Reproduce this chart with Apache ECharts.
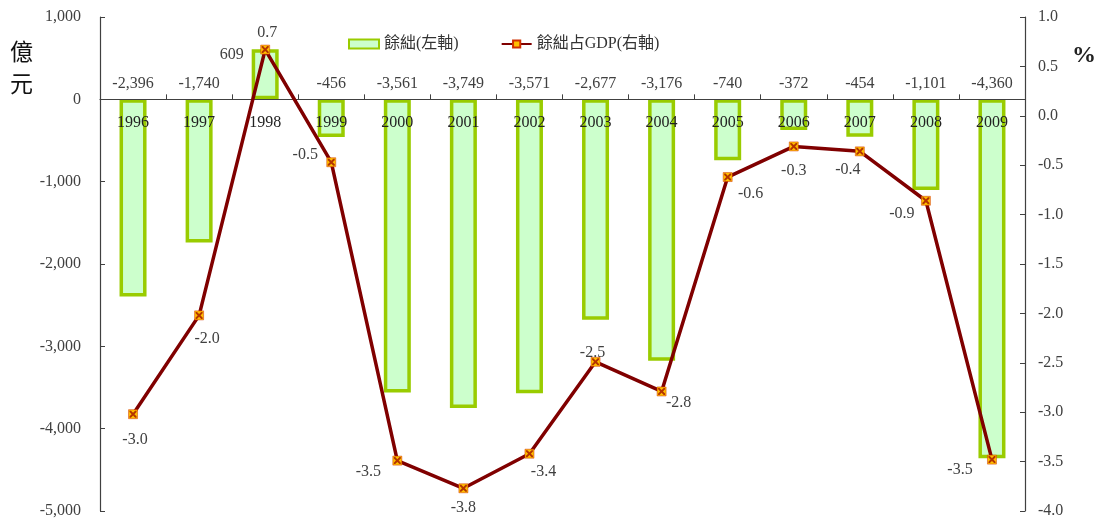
<!DOCTYPE html>
<html>
<head>
<meta charset="utf-8">
<script src="https://cdn.jsdelivr.net/npm/echarts@6/dist/echarts.min.js"></script>
<style>
  html, body { margin: 0; padding: 0; background: #ffffff; }
  #chart { width: 1098px; height: 519px; }
</style>
</head>
<body>
<div id="chart"></div>
<script>
// Years on the category axis
const years = ['1996', '1997', '1998', '1999', '2000', '2001', '2002', '2003', '2004', '2005', '2006', '2007', '2008', '2009'];
// Budget balance, 億元 (left axis)
const balance = [-2396, -1740, 609, -456, -3561, -3749, -3571, -2677, -3176, -740, -372, -454, -1101, -4360];
// Balance as share of GDP, % (right axis)
const balanceGdp = [-3.02, -2.02, 0.67, -0.47, -3.49, -3.77, -3.42, -2.49, -2.79, -0.62, -0.31, -0.36, -0.86, -3.48];
// Axis tick settings
const leftTicks = { min: -5000, max: 1000, interval: 1000 };
const rightTicks = { min: -4, max: 1, interval: 0.5 };

// Where each percentage label sits relative to its point (dx, dy in px)
const gdpLabelOffset = [
  [2, 26], [8, 23], [2, -17], [-26, -7], [-29, 11], [0, 20], [14, 18],
  [-3, -9], [17, 11], [23, 17], [0, 24], [-12, 18], [-24, 13], [-32, 10]
];

const serif = '"Liberation Serif", "Times New Roman", "Noto Sans CJK TC", serif';
const textColor = '#404040';
const axisColor = '#404040';

// Plot box, and how far the zero line of the left axis sits above its bottom edge
const gridBox = { left: 100, right: 73, top: 17, bottom: 8 };
const plotHeight = 519 - gridBox.top - gridBox.bottom;
const zeroLift = plotHeight * (0 - leftTicks.min) / (leftTicks.max - leftTicks.min);

const barData = balance.map(function (v) {
  if (v > 0) {
    return {
      value: v,
      label: { position: 'left', distance: 8, offset: [0, -19] }
    };
  }
  return v;
});

const lineData = balanceGdp.map(function (v, i) {
  return {
    value: v,
    label: { position: 'inside', offset: gdpLabelOffset[i] }
  };
});

const crossPath = 'path://M0,0 L2,0 L5,3 L8,0 L10,0 L10,2 L7,5 L10,8 L10,10 L8,10 L5,7 L2,10 L0,10 L0,8 L3,5 L0,2 Z';

const chart = echarts.init(document.getElementById('chart'), null, { renderer: 'canvas' });

chart.setOption({
  backgroundColor: '#ffffff',
  animation: false,
  textStyle: { fontFamily: serif },
  grid: {
    left: gridBox.left, right: gridBox.right, top: gridBox.top, bottom: gridBox.bottom,
    containLabel: false, outerBoundsMode: 'none'
  },
  legend: {
    left: 343,
    top: 31,
    itemWidth: 30,
    itemHeight: 9,
    itemGap: 42,
    textStyle: { fontFamily: serif, fontSize: 16, color: '#333333' },
    data: [
      { name: '餘絀(左軸)', icon: 'rect' },
      { name: '餘絀占GDP(右軸)' }
    ]
  },
  xAxis: {
    type: 'category',
    data: years,
    position: 'bottom',
    offset: -zeroLift,
    z: 3,
    axisLine: { onZero: false, lineStyle: { color: axisColor, width: 1.2 } },
    axisTick: { show: true, inside: true, length: 5, alignWithLabel: false, lineStyle: { color: axisColor } },
    axisLabel: { margin: 15, fontSize: 16, color: '#222222', fontFamily: serif }
  },
  yAxis: [
    {
      type: 'value',
      min: leftTicks.min,
      max: leftTicks.max,
      interval: leftTicks.interval,
      splitLine: { show: false },
      axisLine: { show: true, lineStyle: { color: axisColor, width: 1.2 } },
      axisTick: { show: true, inside: true, length: 5, lineStyle: { color: axisColor } },
      axisLabel: {
        margin: 19,
        fontSize: 16,
        color: textColor,
        fontFamily: serif,
        formatter: function (v) { return v.toLocaleString('en-US'); }
      }
    },
    {
      type: 'value',
      min: rightTicks.min,
      max: rightTicks.max,
      interval: rightTicks.interval,
      splitLine: { show: false },
      axisLine: { show: true, lineStyle: { color: axisColor, width: 1.2 } },
      axisTick: { show: true, inside: true, length: 5, lineStyle: { color: axisColor } },
      axisLabel: {
        margin: 13,
        fontSize: 16,
        color: textColor,
        fontFamily: serif,
        formatter: function (v) { return v.toFixed(1); }
      }
    }
  ],
  series: [
    {
      name: '餘絀(左軸)',
      type: 'bar',
      yAxisIndex: 0,
      barWidth: 27,
      data: barData,
      itemStyle: { color: '#ccffcc', borderColor: '#99cc00', borderWidth: 3.5 },
      label: {
        show: true,
        position: 'top',
        distance: 8,
        fontSize: 16,
        color: textColor,
        fontFamily: serif,
        formatter: function (p) { return p.value.toLocaleString('en-US'); }
      },
      z: 2
    },
    {
      name: '餘絀占GDP(右軸)',
      type: 'line',
      yAxisIndex: 1,
      data: lineData,
      symbol: 'rect',
      symbolSize: 9,
      lineStyle: { color: '#800000', width: 3.5 },
      itemStyle: { color: '#ffc000', borderColor: '#d03000', borderWidth: 0.5 },
      label: {
        show: true,
        fontSize: 16,
        color: textColor,
        fontFamily: serif,
        formatter: function (p) { return p.value.toFixed(1); }
      },
      z: 4
    },
    {
      name: 'gdpMarks',
      type: 'scatter',
      yAxisIndex: 1,
      data: balanceGdp,
      symbol: crossPath,
      symbolSize: 7,
      itemStyle: { color: '#a01000' },
      silent: true,
      z: 5
    }
  ],
  graphic: [
    {
      type: 'text',
      left: 10,
      top: 35,
      style: {
        text: '億\n元',
        font: '23px "Noto Sans CJK TC", sans-serif',
        fill: '#111111',
        lineHeight: 32
      }
    },
    {
      type: 'text',
      left: 1072,
      top: 44,
      style: {
        text: '%',
        font: 'bold 24px "Liberation Serif", serif',
        fill: '#222222'
      }
    }
  ]
});
</script>
</body>
</html>
